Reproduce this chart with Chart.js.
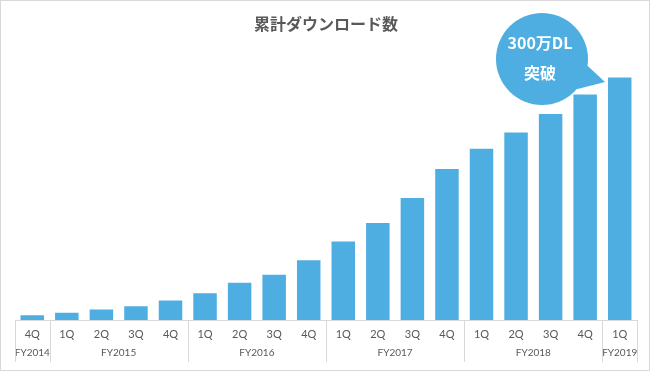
<!DOCTYPE html>
<html>
<head>
<meta charset="utf-8">
<script src="https://cdn.jsdelivr.net/npm/chart.js@4"></script>
<style>
  html, body { margin: 0; padding: 0; background: #fff; }
  #wrap { width: 650px; height: 372px; position: relative; }
</style>
</head>
<body>
<div id="wrap"><canvas id="dlChart" width="650" height="372"></canvas></div>
<script>
// Data (万DL)
const quarters = ['4Q', '1Q', '2Q', '3Q', '4Q', '1Q', '2Q', '3Q', '4Q', '1Q', '2Q', '3Q', '4Q', '1Q', '2Q', '3Q', '4Q', '1Q'];
const downloads = [6, 9, 13, 17, 24, 33, 46, 56, 74, 97, 120, 151, 187, 212, 232, 255, 279, 300];
const fiscalYears = ['FY2014', 'FY2015', 'FY2016', 'FY2017', 'FY2018', 'FY2019'];
const quartersPerYear = [1, 4, 4, 4, 4, 1];

const BAR_COLOR = '#4FAEE1';
const LINE_COLOR = '#d9d9d9';
const TEXT_COLOR = '#595959';

// draws frame, axis line, year groups and the callout bubble
const extrasPlugin = {
    id: 'extras',
    beforeDraw(chart) {
        const ctx = chart.ctx;
        ctx.save();
        ctx.strokeStyle = LINE_COLOR;
        ctx.lineWidth = 1;
        ctx.strokeRect(0.5, 0.5, 649, 370);
        ctx.restore();
    },
    afterDraw(chart) {
        const ctx = chart.ctx;
        const x = chart.scales.x;
        const area = chart.chartArea;
        const step = (area.right - area.left) / quarters.length;

        ctx.save();
        ctx.strokeStyle = LINE_COLOR;
        ctx.lineWidth = 1;

        // axis line
        ctx.beginPath();
        ctx.moveTo(area.left, Math.round(area.bottom) + 0.5);
        ctx.lineTo(area.right, Math.round(area.bottom) + 0.5);
        ctx.stroke();

        // year separators + labels
        ctx.fillStyle = TEXT_COLOR;
        ctx.font = '10px Lato, "Liberation Sans", sans-serif';
        ctx.textAlign = 'center';
        ctx.textBaseline = 'middle';
        let idx = 0;
        const bounds = [x.getPixelForValue(0) - step / 2];
        fiscalYears.forEach((fy, i) => {
            const first = idx;
            idx += quartersPerYear[i];
            const left = x.getPixelForValue(first) - step / 2;
            const right = x.getPixelForValue(idx - 1) + step / 2;
            bounds.push(right);
            ctx.fillText(fy, (left + right) / 2, area.bottom + 33);
        });
        bounds.forEach(b => {
            const bx = Math.round(b) + 0.5;
            ctx.beginPath();
            ctx.moveTo(bx, area.bottom);
            ctx.lineTo(bx, area.bottom + 42);
            ctx.stroke();
        });

        // callout bubble
        const cx = 542, cy = 59, r = 46;
        ctx.fillStyle = BAR_COLOR;
        ctx.beginPath();
        ctx.arc(cx, cy, r, 0, Math.PI * 2);
        ctx.fill();
        ctx.beginPath();
        ctx.moveTo(cx + r * Math.cos(0.15), cy + r * Math.sin(0.15));
        ctx.lineTo(605, 82);
        ctx.lineTo(cx + r * Math.cos(0.72), cy + r * Math.sin(0.72));
        ctx.closePath();
        ctx.fill();

        ctx.fillStyle = '#fff';
        ctx.font = 'bold 16px "Noto Sans CJK JP", sans-serif';
        ctx.fillText('300万DL', cx - 2, 43);
        ctx.fillText('突破', cx - 2, 73);
        ctx.restore();
    }
};

function initChart() {
    const ctx = document.getElementById('dlChart').getContext('2d');
    new Chart(ctx, {
        type: 'bar',
        data: {
            labels: quarters,
            datasets: [{
                label: '累計ダウンロード数',
                data: downloads,
                backgroundColor: BAR_COLOR,
                categoryPercentage: 1.0,
                barPercentage: 0.68
            }]
        },
        options: {
            responsive: false,
            animation: false,
            layout: { padding: { left: 15, right: 13, top: 0, bottom: 0 } },
            scales: {
                x: {
                    grid: { display: false, drawTicks: false },
                    border: { display: false },
                    ticks: {
                        color: TEXT_COLOR,
                        font: { family: 'Lato, "Liberation Sans", sans-serif', size: 11 },
                        padding: 8,
                        maxRotation: 0,
                        autoSkip: false
                    },
                    afterFit: (s) => { s.height = 52; }
                },
                y: {
                    display: false,
                    min: 0,
                    max: 350
                }
            },
            plugins: {
                legend: { display: false },
                tooltip: { enabled: false },
                title: {
                    display: true,
                    text: '累計ダウンロード数',
                    color: TEXT_COLOR,
                    font: { family: '"Noto Sans CJK JP", sans-serif', size: 16, weight: 'bold' },
                    padding: { top: 14, bottom: 4 }
                }
            }
        },
        plugins: [extrasPlugin]
    });
}

initChart();
</script>
</body>
</html>
